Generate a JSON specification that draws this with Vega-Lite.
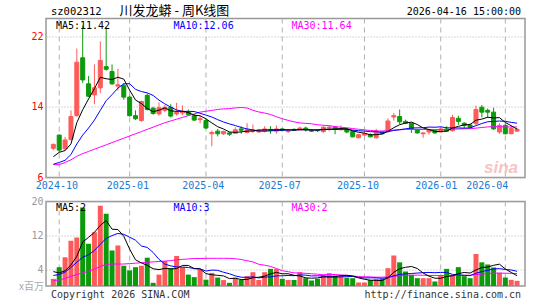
{
"$schema": "https://vega.github.io/schema/vega-lite/v6.json",
"padding": {"left": 18, "top": 3.5, "right": 0, "bottom": 0},
"background": "white",
"bounds": "flush",
"spacing": 24,
"config": {
  "font": "DejaVu Sans Mono",
  "view": {"stroke": "#999999", "strokeWidth": 1.5},
  "axis": {"labelFont": "DejaVu Sans Mono", "labelFontSize": 10, "ticks": false, "domain": false, "gridColor": "#b0b0b0", "gridWidth": 1, "labelOverlap": false}
},
"datasets": {"k": [
{"i":0,"o":9.3,"h":9.85,"l":9.1,"c":9.75,"v":1.7,"m5":8.35,"m10":7.5,"m30":7.45,"vm5":3.4,"vm10":2.5,"vm30":1.3},
{"i":1,"o":10.8,"h":10.85,"l":8.85,"c":9.1,"v":4.45,"m5":8.85,"m10":7.7,"m30":7.45,"vm5":3.1,"vm10":2.7,"vm30":1.4},
{"i":2,"o":9.25,"h":10.6,"l":9.0,"c":10.25,"v":6.8,"m5":9.05,"m10":7.95,"m30":7.7,"vm5":3.6,"vm10":3.3,"vm30":1.8},
{"i":3,"o":10.3,"h":13.6,"l":10.2,"c":12.9,"v":10.7,"m5":9.8,"m10":8.6,"m30":8.0,"vm5":5.0,"vm10":4.4,"vm30":2.3},
{"i":4,"o":13.0,"h":20.6,"l":12.9,"c":19.05,"v":11.5,"m5":12.21,"m10":9.8,"m30":8.4,"vm5":7.03,"vm10":5.6,"vm30":2.7},
{"i":5,"o":19.55,"h":23.2,"l":16.7,"c":17.05,"v":18.6,"m5":13.67,"m10":10.8,"m30":8.7,"vm5":10.41,"vm10":6.8,"vm30":3.1},
{"i":6,"o":16.6,"h":17.5,"l":15.1,"c":15.2,"v":10.0,"m5":14.89,"m10":11.6,"m30":8.95,"vm5":11.52,"vm10":7.4,"vm30":3.5},
{"i":7,"o":15.35,"h":18.8,"l":14.3,"c":16.15,"v":12.7,"m5":16.07,"m10":12.5,"m30":9.2,"vm5":12.7,"vm10":8.4,"vm30":4.0},
{"i":8,"o":16.15,"h":21.4,"l":15.55,"c":19.25,"v":19.0,"m5":17.34,"m10":13.6,"m30":9.45,"vm5":14.36,"vm10":9.9,"vm30":4.6},
{"i":9,"o":18.55,"h":23.0,"l":18.1,"c":18.25,"v":17.1,"m5":17.18,"m10":14.7,"m30":9.7,"vm5":15.48,"vm10":11.26,"vm30":5.1},
{"i":10,"o":18.0,"h":18.8,"l":16.5,"c":16.6,"v":8.4,"m5":17.09,"m10":15.38,"m30":9.95,"vm5":13.44,"vm10":11.93,"vm30":5.2},
{"i":11,"o":16.35,"h":18.3,"l":15.85,"c":16.5,"v":9.6,"m5":17.35,"m10":16.12,"m30":10.2,"vm5":13.36,"vm10":12.44,"vm30":5.2},
{"i":12,"o":16.4,"h":16.7,"l":14.8,"c":15.1,"v":4.8,"m5":17.14,"m10":16.6,"m30":10.45,"vm5":11.78,"vm10":12.24,"vm30":5.2},
{"i":13,"o":15.1,"h":15.3,"l":12.9,"c":13.0,"v":3.7,"m5":15.89,"m10":16.62,"m30":10.7,"vm5":8.72,"vm10":11.54,"vm30":5.3},
{"i":14,"o":13.0,"h":13.6,"l":12.5,"c":12.65,"v":4.45,"m5":14.77,"m10":15.98,"m30":10.95,"vm5":6.19,"vm10":10.84,"vm30":5.4},
{"i":15,"o":12.45,"h":14.7,"l":12.3,"c":14.6,"v":4.8,"m5":14.37,"m10":15.73,"m30":11.2,"vm5":5.47,"vm10":9.46,"vm30":5.5},
{"i":16,"o":15.3,"h":15.5,"l":13.6,"c":13.7,"v":6.7,"m5":13.81,"m10":15.58,"m30":11.45,"vm5":4.89,"vm10":9.13,"vm30":5.6},
{"i":17,"o":13.85,"h":14.0,"l":13.1,"c":13.25,"v":0.75,"m5":13.44,"m10":15.29,"m30":11.7,"vm5":4.08,"vm10":7.93,"vm30":5.7},
{"i":18,"o":13.2,"h":14.5,"l":13.0,"c":13.9,"v":2.7,"m5":13.62,"m10":14.76,"m30":11.95,"vm5":3.88,"vm10":6.3,"vm30":5.8},
{"i":19,"o":13.6,"h":14.2,"l":13.4,"c":13.95,"v":5.9,"m5":13.88,"m10":14.33,"m30":12.2,"vm5":4.17,"vm10":5.18,"vm30":5.9},
{"i":20,"o":13.95,"h":14.3,"l":12.8,"c":12.95,"v":4.2,"m5":13.55,"m10":13.96,"m30":12.4,"vm5":4.05,"vm10":4.76,"vm30":6.0},
{"i":21,"o":13.2,"h":14.45,"l":13.0,"c":13.35,"v":7.1,"m5":13.48,"m10":13.65,"m30":12.6,"vm5":4.13,"vm10":4.51,"vm30":6.2},
{"i":22,"o":13.3,"h":14.15,"l":13.05,"c":13.4,"v":4.45,"m5":13.51,"m10":13.48,"m30":12.8,"vm5":4.87,"vm10":4.48,"vm30":6.3},
{"i":23,"o":13.4,"h":13.7,"l":13.0,"c":13.1,"v":2.7,"m5":13.35,"m10":13.49,"m30":13.0,"vm5":4.87,"vm10":4.38,"vm30":6.4},
{"i":24,"o":13.0,"h":13.2,"l":12.4,"c":12.5,"v":2.1,"m5":13.06,"m10":13.47,"m30":13.2,"vm5":4.11,"vm10":4.14,"vm30":6.5},
{"i":25,"o":12.55,"h":13.0,"l":12.15,"c":12.65,"v":3.9,"m5":12.99,"m10":13.27,"m30":13.4,"vm5":4.05,"vm10":4.05,"vm30":6.5},
{"i":26,"o":12.45,"h":12.6,"l":11.5,"c":11.6,"v":1.5,"m5":12.64,"m10":13.06,"m30":13.5,"vm5":2.93,"vm10":3.53,"vm30":6.55},
{"i":27,"o":10.95,"h":11.3,"l":9.55,"c":11.1,"v":3.1,"m5":12.18,"m10":12.85,"m30":13.6,"vm5":2.66,"vm10":3.77,"vm30":6.55},
{"i":28,"o":11.25,"h":11.5,"l":10.65,"c":10.95,"v":2.0,"m5":11.75,"m10":12.55,"m30":13.7,"vm5":2.52,"vm10":3.7,"vm30":6.55},
{"i":29,"o":10.95,"h":11.3,"l":10.8,"c":11.2,"v":1.4,"m5":11.49,"m10":12.28,"m30":13.77,"vm5":2.38,"vm10":3.25,"vm30":6.56},
{"i":30,"o":11.05,"h":11.1,"l":10.7,"c":10.9,"v":0.75,"m5":11.15,"m10":12.07,"m30":13.8,"vm5":1.75,"vm10":2.9,"vm30":6.53},
{"i":31,"o":11.0,"h":11.7,"l":10.95,"c":11.4,"v":1.96,"m5":11.11,"m10":11.88,"m30":13.88,"vm5":1.84,"vm10":2.39,"vm30":6.45},
{"i":32,"o":11.5,"h":11.8,"l":10.95,"c":11.35,"v":1.42,"m5":11.16,"m10":11.67,"m30":13.92,"vm5":1.51,"vm10":2.08,"vm30":6.27},
{"i":33,"o":11.1,"h":12.15,"l":11.0,"c":11.4,"v":2.33,"m5":11.25,"m10":11.5,"m30":13.87,"vm5":1.57,"vm10":2.05,"vm30":5.99},
{"i":34,"o":11.2,"h":12.0,"l":11.05,"c":11.35,"v":3.27,"m5":11.28,"m10":11.39,"m30":13.61,"vm5":1.95,"vm10":2.16,"vm30":5.71},
{"i":35,"o":11.15,"h":11.5,"l":11.1,"c":11.35,"v":1.42,"m5":11.37,"m10":11.26,"m30":13.42,"vm5":2.08,"vm10":1.92,"vm30":5.14},
{"i":36,"o":11.25,"h":11.8,"l":11.1,"c":11.5,"v":3.27,"m5":11.39,"m10":11.25,"m30":13.3,"vm5":2.34,"vm10":2.09,"vm30":4.92},
{"i":37,"o":11.45,"h":11.8,"l":10.95,"c":11.35,"v":4.06,"m5":11.39,"m10":11.28,"m30":13.14,"vm5":2.87,"vm10":2.19,"vm30":4.63},
{"i":38,"o":11.25,"h":11.9,"l":10.95,"c":11.5,"v":4.06,"m5":11.41,"m10":11.33,"m30":12.88,"vm5":3.22,"vm10":2.39,"vm30":4.13},
{"i":39,"o":11.5,"h":11.55,"l":11.25,"c":11.35,"v":1.7,"m5":11.41,"m10":11.35,"m30":12.65,"vm5":2.9,"vm10":2.42,"vm30":3.62},
{"i":40,"o":11.2,"h":11.4,"l":11.05,"c":11.3,"v":1.42,"m5":11.4,"m10":11.39,"m30":12.47,"vm5":2.9,"vm10":2.49,"vm30":3.38},
{"i":41,"o":11.45,"h":11.55,"l":11.3,"c":11.35,"v":1.42,"m5":11.37,"m10":11.38,"m30":12.3,"vm5":2.53,"vm10":2.44,"vm30":3.11},
{"i":42,"o":11.4,"h":11.75,"l":11.35,"c":11.6,"v":3.27,"m5":11.42,"m10":11.41,"m30":12.18,"vm5":2.37,"vm10":2.62,"vm30":3.06},
{"i":43,"o":11.6,"h":11.75,"l":11.2,"c":11.4,"v":1.85,"m5":11.4,"m10":11.41,"m30":12.13,"vm5":1.93,"vm10":2.57,"vm30":3.0},
{"i":44,"o":11.3,"h":11.45,"l":11.15,"c":11.25,"v":1.3,"m5":11.38,"m10":11.4,"m30":12.08,"vm5":1.85,"vm10":2.38,"vm30":2.89},
{"i":45,"o":11.35,"h":11.4,"l":11.15,"c":11.3,"v":1.7,"m5":11.38,"m10":11.39,"m30":11.97,"vm5":1.91,"vm10":2.41,"vm30":2.79},
{"i":46,"o":11.2,"h":11.8,"l":11.05,"c":11.7,"v":2.64,"m5":11.45,"m10":11.41,"m30":11.91,"vm5":2.15,"vm10":2.34,"vm30":2.65},
{"i":47,"o":11.6,"h":11.9,"l":11.25,"c":11.7,"v":3.04,"m5":11.47,"m10":11.45,"m30":11.86,"vm5":2.11,"vm10":2.24,"vm30":2.73},
{"i":48,"o":11.7,"h":11.75,"l":10.9,"c":11.45,"v":2.49,"m5":11.48,"m10":11.44,"m30":11.77,"vm5":2.23,"vm10":2.08,"vm30":2.72},
{"i":49,"o":11.4,"h":11.9,"l":11.35,"c":11.55,"v":2.49,"m5":11.54,"m10":11.46,"m30":11.69,"vm5":2.47,"vm10":2.16,"vm30":2.61},
{"i":50,"o":11.5,"h":11.6,"l":11.0,"c":11.15,"v":1.96,"m5":11.51,"m10":11.45,"m30":11.63,"vm5":2.52,"vm10":2.22,"vm30":2.54},
{"i":51,"o":11.2,"h":11.3,"l":10.55,"c":10.6,"v":1.85,"m5":11.29,"m10":11.37,"m30":11.54,"vm5":2.37,"vm10":2.26,"vm30":2.36},
{"i":52,"o":10.5,"h":10.95,"l":10.45,"c":10.85,"v":0.83,"m5":11.12,"m10":11.3,"m30":11.46,"vm5":1.92,"vm10":2.02,"vm30":2.24},
{"i":53,"o":10.8,"h":11.2,"l":10.75,"c":10.95,"v":0.83,"m5":11.02,"m10":11.25,"m30":11.39,"vm5":1.59,"vm10":1.91,"vm30":2.18},
{"i":54,"o":10.85,"h":11.0,"l":10.55,"c":10.6,"v":1.42,"m5":10.83,"m10":11.19,"m30":11.32,"vm5":1.38,"vm10":1.93,"vm30":2.16},
{"i":55,"o":10.5,"h":11.5,"l":10.4,"c":11.25,"v":1.7,"m5":10.85,"m10":11.18,"m30":11.28,"vm5":1.33,"vm10":1.93,"vm30":2.08},
{"i":56,"o":11.15,"h":11.2,"l":10.9,"c":10.95,"v":1.7,"m5":10.92,"m10":11.11,"m30":11.26,"vm5":1.3,"vm10":1.83,"vm30":2.09},
{"i":57,"o":11.25,"h":12.7,"l":11.1,"c":12.4,"v":4.22,"m5":11.23,"m10":11.18,"m30":11.3,"vm5":1.97,"vm10":1.95,"vm30":2.13},
{"i":58,"o":12.85,"h":13.3,"l":12.45,"c":13.0,"v":7.22,"m5":11.64,"m10":11.33,"m30":11.37,"vm5":3.25,"vm10":2.42,"vm30":2.3},
{"i":59,"o":12.9,"h":13.7,"l":12.05,"c":12.3,"v":5.6,"m5":11.98,"m10":11.41,"m30":11.4,"vm5":4.09,"vm10":2.73,"vm30":2.44},
{"i":60,"o":12.35,"h":12.55,"l":12.05,"c":12.15,"v":3.43,"m5":12.16,"m10":11.51,"m30":11.45,"vm5":4.43,"vm10":2.88,"vm30":2.53},
{"i":61,"o":12.15,"h":12.2,"l":11.05,"c":11.5,"v":2.64,"m5":12.27,"m10":11.6,"m30":11.45,"vm5":4.62,"vm10":2.96,"vm30":2.55},
{"i":62,"o":11.4,"h":11.5,"l":10.95,"c":11.05,"v":1.85,"m5":12.0,"m10":11.62,"m30":11.44,"vm5":4.15,"vm10":3.06,"vm30":2.57},
{"i":63,"o":10.95,"h":11.1,"l":10.5,"c":11.05,"v":1.85,"m5":11.61,"m10":11.63,"m30":11.43,"vm5":3.07,"vm10":3.16,"vm30":2.55},
{"i":64,"o":11.15,"h":11.5,"l":10.85,"c":11.4,"v":1.85,"m5":11.43,"m10":11.71,"m30":11.43,"vm5":2.32,"vm10":3.21,"vm30":2.5},
{"i":65,"o":11.35,"h":11.4,"l":10.95,"c":11.05,"v":1.07,"m5":11.21,"m10":11.69,"m30":11.42,"vm5":1.85,"vm10":3.14,"vm30":2.49},
{"i":66,"o":11.15,"h":11.7,"l":11.1,"c":11.5,"v":2.49,"m5":11.21,"m10":11.74,"m30":11.42,"vm5":1.82,"vm10":3.22,"vm30":2.47},
{"i":67,"o":11.5,"h":11.8,"l":11.2,"c":11.25,"v":4.06,"m5":11.25,"m10":11.63,"m30":11.42,"vm5":2.26,"vm10":3.21,"vm30":2.47},
{"i":68,"o":11.3,"h":13.1,"l":11.2,"c":12.8,"v":2.64,"m5":11.6,"m10":11.61,"m30":11.46,"vm5":2.42,"vm10":2.75,"vm30":2.42},
{"i":69,"o":12.7,"h":13.0,"l":11.95,"c":12.35,"v":4.46,"m5":11.79,"m10":11.61,"m30":11.49,"vm5":2.94,"vm10":2.63,"vm30":2.51},
{"i":70,"o":12.15,"h":12.25,"l":11.6,"c":11.9,"v":2.33,"m5":11.96,"m10":11.59,"m30":11.51,"vm5":3.2,"vm10":2.52,"vm30":2.54},
{"i":71,"o":11.95,"h":12.1,"l":11.6,"c":11.7,"v":1.85,"m5":12.0,"m10":11.61,"m30":11.52,"vm5":3.07,"vm10":2.45,"vm30":2.55},
{"i":72,"o":12.1,"h":14.15,"l":11.95,"c":13.7,"v":7.6,"m5":12.49,"m10":11.87,"m30":11.59,"vm5":3.78,"vm10":3.02,"vm30":2.7},
{"i":73,"o":13.95,"h":14.2,"l":12.8,"c":13.4,"v":5.6,"m5":12.61,"m10":12.11,"m30":11.66,"vm5":4.37,"vm10":3.4,"vm30":2.82},
{"i":74,"o":13.6,"h":13.8,"l":12.75,"c":13.4,"v":5.09,"m5":12.82,"m10":12.31,"m30":11.73,"vm5":4.49,"vm10":3.72,"vm30":2.95},
{"i":75,"o":13.4,"h":13.9,"l":11.4,"c":11.5,"v":4.38,"m5":12.74,"m10":12.35,"m30":11.74,"vm5":4.9,"vm10":4.05,"vm30":3.04},
{"i":76,"o":11.15,"h":12.15,"l":10.95,"c":11.9,"v":3.12,"m5":12.78,"m10":12.39,"m30":11.75,"vm5":5.16,"vm10":4.11,"vm30":3.06},
{"i":77,"o":11.9,"h":12.15,"l":10.9,"c":10.95,"v":2.01,"m5":12.23,"m10":12.36,"m30":11.72,"vm5":4.04,"vm10":3.91,"vm30":3.02},
{"i":78,"o":10.95,"h":11.9,"l":10.9,"c":11.55,"v":1.46,"m5":11.86,"m10":12.24,"m30":11.72,"vm5":3.21,"vm10":3.79,"vm30":2.99},
{"i":79,"o":11.25,"h":11.6,"l":11.2,"c":11.45,"v":1.22,"m5":11.47,"m10":12.15,"m30":11.72,"vm5":2.44,"vm10":3.47,"vm30":2.94}
]},
"vconcat": [
{
  "width": 479, "height": 159,
  "data": {"name": "k"},
  "layer": [
    {"transform": [{"filter": "indexof([1, 13, 26, 39, 53, 66, 77], datum.i) >= 0"}],
     "mark": {"type": "rule", "color": "#b0b0b0", "strokeWidth": 1, "strokeDash": [5, 4]},
     "encoding": {
       "x": {"field": "i", "type": "quantitative", "scale": {"domain": [-0.4, 79.5], "nice": false, "zero": false},
             "axis": {"title": null, "values": [0.52, 12.61, 25.45, 38.47, 51.81, 65.15, 73.83], "grid": false, "labelOverlap": false, "labelColor": "#1a7ad4", "labelPadding": 3,
                      "labelExpr": "datum.value < 5 ? '2024-10' : datum.value < 20 ? '2025-01' : datum.value < 30 ? '2025-04' : datum.value < 45 ? '2025-07' : datum.value < 60 ? '2025-10' : datum.value < 70 ? '2026-01' : '2026-04'"}}
     }},
    {"mark": {"type": "rule", "strokeWidth": 1, "clip": true},
     "encoding": {
       "x": {"field": "i", "type": "quantitative"},
       "y": {"field": "l", "type": "quantitative", "scale": {"domain": [6, 24], "nice": false, "zero": false},
             "axis": {"title": null, "values": [6, 8, 10, 12, 14, 16, 18, 20, 22, 24], "labelOverlap": false, "grid": true, "gridDash": [1, 2], "labelColor": "#ff0000", "labelPadding": 3}},
       "y2": {"field": "h"},
       "color": {"condition": {"test": "datum.c >= datum.o", "value": "#ff5a5a"}, "value": "#0a9a0a"}
     }},
    {"mark": {"type": "bar", "size": 4, "strokeWidth": 1, "clip": true},
     "encoding": {
       "x": {"field": "i", "type": "quantitative"},
       "y": {"field": "o", "type": "quantitative"},
       "y2": {"field": "c"},
       "color": {"condition": {"test": "datum.c >= datum.o", "value": "#ff5a5a"}, "value": "#0a9a0a"},
       "stroke": {"condition": {"test": "datum.c >= datum.o", "value": "#ff5a5a"}, "value": "#0a9a0a"}
     }},
    {"mark": {"type": "line", "color": "#ff00ff", "strokeWidth": 1, "clip": true},
     "encoding": {"x": {"field": "i", "type": "quantitative"}, "y": {"field": "m30", "type": "quantitative"}}},
    {"mark": {"type": "line", "color": "#0000ff", "strokeWidth": 1, "clip": true},
     "encoding": {"x": {"field": "i", "type": "quantitative"}, "y": {"field": "m10", "type": "quantitative"}}},
    {"mark": {"type": "line", "color": "#000000", "strokeWidth": 1, "clip": true},
     "encoding": {"x": {"field": "i", "type": "quantitative"}, "y": {"field": "m5", "type": "quantitative"}}},
    {"transform": [{"filter": "datum.i == 79"}],
     "mark": {"type": "text", "text": "sina", "font": "Liberation Sans", "fontSize": 17, "fontStyle": "italic", "fontWeight": "bold", "color": "#f6c4c4", "align": "right", "baseline": "bottom", "dx": 1, "dy": -1},
     "encoding": {"x": {"field": "i", "type": "quantitative"}, "y": {"datum": 6, "type": "quantitative"}}},
    {"transform": [{"filter": "datum.i == 0"}],
     "mark": {"type": "text", "text": "MA5:11.42", "fontSize": 10, "color": "#000000", "align": "left", "baseline": "middle", "dx": 2.6, "dy": 7},
     "encoding": {"x": {"field": "i", "type": "quantitative"}, "y": {"datum": 24, "type": "quantitative"}}},
    {"transform": [{"filter": "datum.i == 20"}],
     "mark": {"type": "text", "text": "MA10:12.06", "fontSize": 10, "color": "#0000ff", "align": "left", "baseline": "middle", "dx": 2.7, "dy": 7},
     "encoding": {"x": {"field": "i", "type": "quantitative"}, "y": {"datum": 24, "type": "quantitative"}}},
    {"transform": [{"filter": "datum.i == 40"}],
     "mark": {"type": "text", "text": "MA30:11.64", "fontSize": 10, "color": "#ff00ff", "align": "left", "baseline": "middle", "dx": 3.3, "dy": 7},
     "encoding": {"x": {"field": "i", "type": "quantitative"}, "y": {"datum": 24, "type": "quantitative"}}},
    {"transform": [{"filter": "datum.i == 0"}],
     "mark": {"type": "text", "text": "sz002312", "fontSize": 10.5, "color": "#000000", "align": "left", "baseline": "middle", "dx": -2.4, "dy": -7},
     "encoding": {"x": {"field": "i", "type": "quantitative"}, "y": {"datum": 24, "type": "quantitative"}}},
    {"transform": [{"filter": "datum.i == 11"}],
     "mark": {"type": "text", "text": "川发龙蟒 - 周K线图", "font": "Noto Sans CJK SC", "fontSize": 13, "color": "#000000", "align": "left", "baseline": "middle", "dx": 1.7, "dy": -8},
     "encoding": {"x": {"field": "i", "type": "quantitative"}, "y": {"datum": 24, "type": "quantitative"}}},
    {"transform": [{"filter": "datum.i == 79"}],
     "mark": {"type": "text", "text": "2026-04-16 15:00:00", "fontSize": 10, "color": "#000000", "align": "right", "baseline": "middle", "dx": 4, "dy": -7},
     "encoding": {"x": {"field": "i", "type": "quantitative"}, "y": {"datum": 24, "type": "quantitative"}}}
  ]
},
{
  "width": 479, "height": 84.5,
  "data": {"name": "k"},
  "layer": [
    {"transform": [{"filter": "indexof([1, 13, 26, 39, 53, 66, 77], datum.i) >= 0"}],
     "mark": {"type": "rule", "color": "#b0b0b0", "strokeWidth": 1, "strokeDash": [5, 4]},
     "encoding": {
       "x": {"field": "i", "type": "quantitative", "scale": {"domain": [-0.4, 79.5], "nice": false, "zero": false}, "axis": null}
     }},
    {"mark": {"type": "bar", "size": 5, "clip": true},
     "encoding": {
       "x": {"field": "i", "type": "quantitative", "axis": null},
       "y": {"field": "v", "type": "quantitative", "scale": {"domain": [0, 20], "nice": false},
             "axis": {"title": null, "values": [4, 8, 12, 16, 20], "labelOverlap": false, "grid": true, "gridDash": [1, 2], "labelColor": "#999999", "labelPadding": 3}},
       "color": {"condition": {"test": "datum.c >= datum.o", "value": "#ff5a5a"}, "value": "#0a9a0a"}
     }},
    {"mark": {"type": "line", "color": "#ff00ff", "strokeWidth": 1, "clip": true},
     "encoding": {"x": {"field": "i", "type": "quantitative", "axis": null}, "y": {"field": "vm30", "type": "quantitative"}}},
    {"mark": {"type": "line", "color": "#0000ff", "strokeWidth": 1, "clip": true},
     "encoding": {"x": {"field": "i", "type": "quantitative", "axis": null}, "y": {"field": "vm10", "type": "quantitative"}}},
    {"mark": {"type": "line", "color": "#000000", "strokeWidth": 1, "clip": true},
     "encoding": {"x": {"field": "i", "type": "quantitative", "axis": null}, "y": {"field": "vm5", "type": "quantitative"}}},
    {"transform": [{"filter": "datum.i == 0"}],
     "mark": {"type": "text", "text": "MA5:2", "fontSize": 10, "color": "#000000", "align": "left", "baseline": "middle", "dx": 2.6, "dy": 6},
     "encoding": {"x": {"field": "i", "type": "quantitative", "axis": null}, "y": {"datum": 20, "type": "quantitative"}}},
    {"transform": [{"filter": "datum.i == 20"}],
     "mark": {"type": "text", "text": "MA10:3", "fontSize": 10, "color": "#0000ff", "align": "left", "baseline": "middle", "dx": 2.7, "dy": 6},
     "encoding": {"x": {"field": "i", "type": "quantitative", "axis": null}, "y": {"datum": 20, "type": "quantitative"}}},
    {"transform": [{"filter": "datum.i == 40"}],
     "mark": {"type": "text", "text": "MA30:2", "fontSize": 10, "color": "#ff00ff", "align": "left", "baseline": "middle", "dx": 3.3, "dy": 6},
     "encoding": {"x": {"field": "i", "type": "quantitative", "axis": null}, "y": {"datum": 20, "type": "quantitative"}}},
    {"transform": [{"filter": "datum.i == 0"}],
     "mark": {"type": "text", "text": "x百万", "font": "Noto Sans CJK SC", "fontSize": 10, "color": "#aaaaaa", "align": "left", "baseline": "middle", "dx": -34.4, "dy": 1},
     "encoding": {"x": {"field": "i", "type": "quantitative", "axis": null}, "y": {"datum": 0, "type": "quantitative"}}},
    {"transform": [{"filter": "datum.i == 0"}],
     "mark": {"type": "text", "text": "Copyright 2026 SINA.COM", "fontSize": 10, "color": "#333333", "align": "left", "baseline": "middle", "dx": -2.4, "dy": 9},
     "encoding": {"x": {"field": "i", "type": "quantitative", "axis": null}, "y": {"datum": 0, "type": "quantitative"}}},
    {"transform": [{"filter": "datum.i == 79"}],
     "mark": {"type": "text", "text": "http://finance.sina.com.cn", "fontSize": 10, "color": "#333333", "align": "right", "baseline": "middle", "dx": 4, "dy": 9},
     "encoding": {"x": {"field": "i", "type": "quantitative", "axis": null}, "y": {"datum": 0, "type": "quantitative"}}}
  ]
}
]
}
